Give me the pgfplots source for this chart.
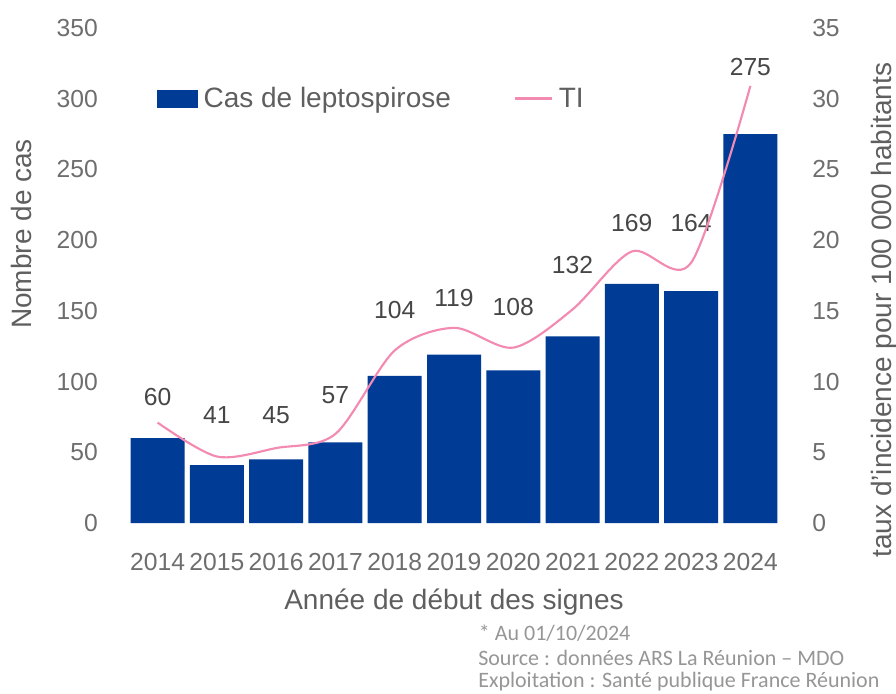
\documentclass[border=0pt]{standalone}
\usepackage{pgfplots}
\pgfplotsset{compat=1.18}
\usepackage{pgfplotstable}
\usepackage{fontspec}
\setmainfont{Liberation Sans}
\newfontfamily\calibri{Carlito}

\definecolor{barblue}{RGB}{0,59,150}
\definecolor{tipink}{RGB}{242,138,178}
\definecolor{ticktext}{RGB}{110,110,110}
\definecolor{labtext}{RGB}{95,95,95}
\definecolor{valtext}{RGB}{70,70,70}
\definecolor{srctext}{RGB}{150,150,150}

% 1 px of the reference = 0.75pt
\pgfplotstableread{
x cas ti ly
0 60 7.1 89
1 41 4.7 76.4
2 45 5.3 76.4
3 57 6.3 90.5
4 104 12.2 150.6
5 119 13.8 159
6 108 12.4 153
7 132 15.1 182.5
8 169 19.2 212
9 164 18.4 212
10 275 30.9 322.7
}\datatable

\pgfplotsset{
  common/.style={
    scale only axis,
    width=489pt, height=371.25pt,
    at={(96pt,127.5pt)}, anchor=south west,
    xmin=-0.5, xmax=10.5,
    axis line style={draw=none},
    major tick length=0pt,
    /pgf/number format/assume math mode=true,
    tick label style={font=\fontsize{18.5}{22}\selectfont, text=ticktext, inner sep=0pt},
    label style={font=\fontsize{21}{24}\selectfont, text=labtext},
  },
}

\begin{document}
\begin{tikzpicture}
\useasboundingbox (0,0) rectangle (672pt,519.75pt);

% cases (left axis)
\begin{axis}[
  common,
  axis y line*=left, axis x line*=bottom,
  ymin=0, ymax=350,
  ytick={0,50,...,350},
  xtick={0,...,10},
  xticklabels={2014,2015,2016,2017,2018,2019,2020,2021,2022,2023,2024},
  xticklabel style={anchor=center, yshift=-29pt},
  yticklabel style={anchor=east, xshift=-22.5pt},
  xlabel={Année de début des signes},
  xlabel style={at={(axis description cs:0.5,0)}, anchor=center, yshift=-59pt},
  ylabel={Nombre de cas},
  ylabel style={at={(axis description cs:-0.1626,0.584)}, anchor=center},
]
\addplot[ybar, bar width=40.5pt, bar shift=0pt, fill=barblue, draw=none]
  table[x=x, y=cas] {\datatable};
\addplot[draw=none, mark=none, nodes near coords, point meta=explicit symbolic,
  nodes near coords style={anchor=center, font=\fontsize{18.5}{22}\selectfont, text=valtext}]
  table[x=x, y=ly, meta=cas] {\datatable};
\end{axis}

% incidence rate (right axis)
\begin{axis}[
  common,
  axis y line*=right, axis x line=none,
  ymin=0, ymax=35,
  ytick={0,5,...,35},
  yticklabel style={anchor=west, xshift=24pt},
  ylabel={taux d'incidence pour 100 000 habitants},
  ylabel style={at={(axis description cs:1.1595,0.43)}, anchor=center, rotate=0},
  legend columns=2,
  legend style={
    at={(axis description cs:0.0445,0.8576)}, anchor=west,
    draw=none, fill=none, inner sep=0pt, outer sep=0pt,
    font=\fontsize{21}{24}\selectfont, text=labtext,
    nodes={inner sep=0pt},
    column sep=4.5pt,
    /tikz/every even column/.append style={column sep=47pt},
  },
]
\addlegendimage{legend image code/.code={\fill[barblue] (0pt,-6.4pt) rectangle (30pt,6.4pt);}}
\addlegendentry{Cas de leptospirose}
\addplot[tipink, line width=1.6pt, smooth, mark=none,
  legend image code/.code={\draw[tipink, line width=1.6pt] (0pt,0pt) -- (27.75pt,0pt);}]
  table[x=x, y=ti] {\datatable};
\addlegendentry{TI}
\end{axis}

% source notes
\begin{scope}[every node/.style={anchor=west, inner sep=0pt, text=srctext, font=\calibri\fontsize{16.5}{20}\selectfont}]
\node at (359pt,45pt) {* Au 01/10/2024};
\node at (358.5pt,26.25pt) {Source : données ARS La Réunion – MDO};
\node at (358.5pt,8.25pt) {Exploitation : Santé publique France Réunion};
\end{scope}
\end{tikzpicture}
\end{document}
